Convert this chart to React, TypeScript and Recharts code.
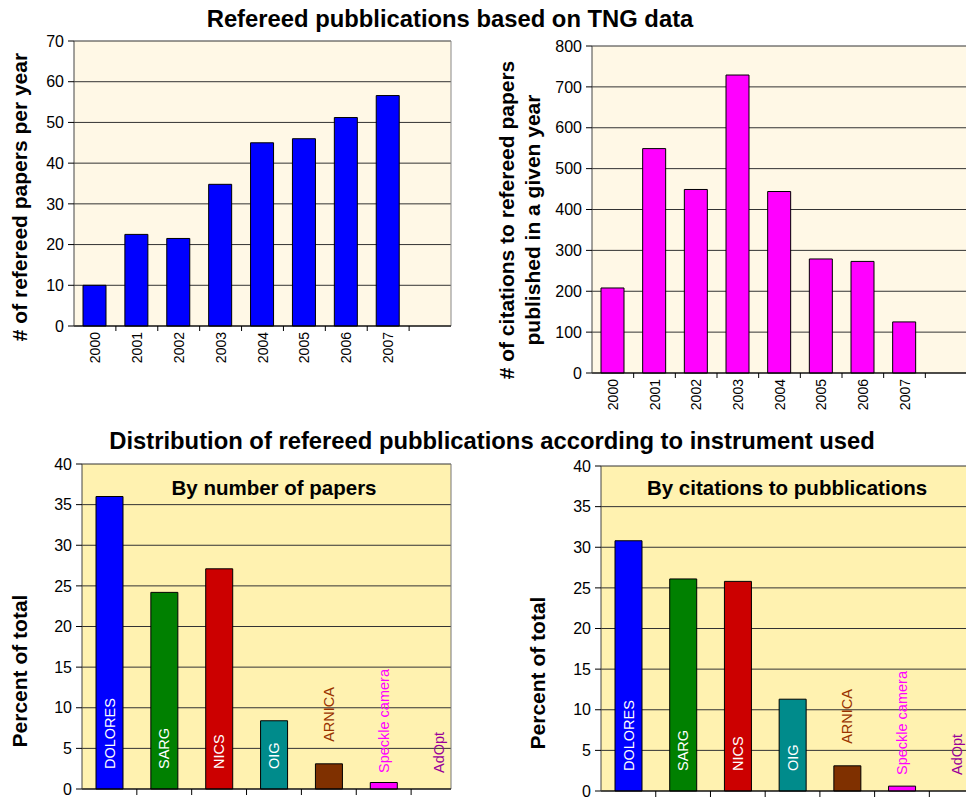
import React from 'react';
import { BarChart, Bar, XAxis, YAxis, CartesianGrid, Cell, LabelList } from 'recharts';

const years = ['2000', '2001', '2002', '2003', '2004', '2005', '2006', '2007'];
const papersPerYear = [10, 22.5, 21.5, 34.8, 45, 46, 51.2, 56.6];
const citationsPerYear = [208, 549, 449, 729, 444, 279, 273, 125];
const papersTicks = [0, 10, 20, 30, 40, 50, 60, 70];
const citationsTicks = [0, 100, 200, 300, 400, 500, 600, 700, 800];

const instruments = ['DOLORES', 'SARG', 'NICS', 'OIG', 'ARNICA', 'Speckle camera', 'AdOpt'];
const papersPercent = [36, 24.2, 27.1, 8.4, 3.1, 0.8, 0];
const citationsPercent = [30.8, 26.1, 25.8, 11.3, 3.1, 0.6, 0];
const percentTicks = [0, 5, 10, 15, 20, 25, 30, 35, 40];

const barColors = ['#0000FF', '#008000', '#CC0000', '#008B8B', '#7F3000', '#FF00FF', '#800080'];
const labelColors = ['#FFFFFF', '#FFFFFF', '#FFFFFF', '#FFFFFF', '#993300', '#FF00FF', '#990099'];

const FONT = 'Arial, "Liberation Sans", Helvetica, sans-serif';

// one empty slot after 2007, like the original
const yearRows = (values: number[]) => [
  ...years.map((year, i) => ({ year, value: values[i] })),
  { year: '', value: null },
];

const instrumentRows = (values: number[]) =>
  instruments.map((name, i) => ({ name, value: values[i] }));

const YearTick = (props: any) => {
  const { x, y, payload, band } = props;
  if (!payload || payload.value === '') return null;
  const ty = y + 6;
  return (
    <g>
      <line x1={x + band / 2} x2={x + band / 2} y1={y} y2={y + 5} stroke="#000" />
      <text
        x={x}
        y={ty}
        transform={`rotate(-90 ${x} ${ty})`}
        textAnchor="end"
        dominantBaseline="central"
        fontSize={14}
        fontFamily={FONT}
        fill="#000"
      >
        {payload.value}
      </text>
    </g>
  );
};

const InstrumentLabel = (props: any) => {
  const { x, y, width, height, value } = props;
  const index = props.index ?? instruments.indexOf(value);
  const bottom = y + height;
  const cx = x + width / 2;
  let ay = bottom - 16;
  if (height > 40) ay = bottom - 20;
  else if (height > 15) ay = y - 22;
  return (
    <text
      x={cx}
      y={ay}
      transform={`rotate(-90 ${cx} ${ay})`}
      textAnchor="start"
      dominantBaseline="central"
      fontSize={14.5}
      fontFamily={FONT}
      fill={labelColors[index]}
    >
      {value}
    </text>
  );
};

// tick marks sit on the category boundaries; zero bars get their name here,
// since the bar label list skips them
const BoundaryTick = (props: any) => {
  const { x, y, index, band, count, values } = props;
  return (
    <g>
      {index < count - 1 && (
        <line x1={x + band / 2} x2={x + band / 2} y1={y} y2={y + 6} stroke="#000" />
      )}
      {values[index] === 0 && (
        <InstrumentLabel x={x - 13.5} y={y} width={27} height={0} value={instruments[index]} index={index} />
      )}
    </g>
  );
};

const rightBorder = ({ offset }: any) => [offset.left + offset.width];

const yTick = { fontSize: 16, fill: '#000', fontFamily: FONT };

const boxStyle = (left: number, top: number): React.CSSProperties => ({
  position: 'absolute',
  left,
  top,
});

const Title = ({ x, y, size, children }: any) => (
  <div
    style={{
      position: 'absolute',
      left: x,
      top: y,
      transform: 'translate(-50%, -50%)',
      whiteSpace: 'nowrap',
      fontWeight: 'bold',
      fontSize: size,
      lineHeight: 1,
      color: '#000',
      zIndex: 2,
    }}
  >
    {children}
  </div>
);

const AxisTitle = ({ x, y, children }: any) => (
  <div
    style={{
      position: 'absolute',
      left: x,
      top: y,
      transform: 'translate(-50%, -50%) rotate(-90deg)',
      whiteSpace: 'nowrap',
      fontWeight: 'bold',
      fontSize: 21,
      lineHeight: '26px',
      textAlign: 'center',
      color: '#000',
    }}
  >
    {children}
  </div>
);

const YearChart = ({ left, width, height, top, yWidth, xHeight, right, values, ticks, fill, band }: any) => (
  <div style={boxStyle(left, 0)}>
    <BarChart
      width={width}
      height={height}
      data={yearRows(values)}
      margin={{ top, right, bottom: 0, left: 0 }}
    >
      <CartesianGrid vertical={false} fill="#FFF8E6" stroke="#333" />
      <CartesianGrid horizontal={false} verticalCoordinatesGenerator={rightBorder} stroke="#888" />
      <XAxis
        dataKey="year"
        height={xHeight}
        interval={0}
        tickLine={false}
        tickSize={0}
        tickMargin={0}
        axisLine={{ stroke: '#000' }}
        tick={<YearTick band={band} />}
      />
      <YAxis
        width={yWidth}
        domain={[ticks[0], ticks[ticks.length - 1]]}
        ticks={ticks}
        interval={0}
        tick={yTick}
        tickSize={6}
        tickMargin={4}
        tickLine={{ stroke: '#000' }}
        axisLine={{ stroke: '#444' }}
      />
      <Bar dataKey="value" fill={fill} stroke="#000" strokeWidth={1} barSize={23} isAnimationActive={false} />
    </BarChart>
  </div>
);

const InstrumentChart = ({ left, width, top, yWidth, xHeight, right, padRight, values, band }: any) => (
  <div style={boxStyle(left, 440)}>
    <BarChart
      width={width}
      height={358}
      data={instrumentRows(values)}
      margin={{ top, right, bottom: 0, left: 0 }}
    >
      <CartesianGrid vertical={false} fill="#FFF2B0" stroke="#333" />
      <CartesianGrid horizontal={false} verticalCoordinatesGenerator={rightBorder} stroke="#777" />
      <XAxis
        dataKey="name"
        height={xHeight}
        interval={0}
        padding={{ left: 0, right: padRight }}
        tickLine={false}
        tickSize={0}
        tickMargin={0}
        axisLine={{ stroke: '#000' }}
        tick={<BoundaryTick band={band} count={instruments.length} values={values} />}
      />
      <YAxis
        width={yWidth}
        domain={[0, 40]}
        ticks={percentTicks}
        interval={0}
        tick={yTick}
        tickSize={6}
        tickMargin={4}
        tickLine={{ stroke: '#000' }}
        axisLine={{ stroke: '#444' }}
      />
      <Bar dataKey="value" stroke="#000" strokeWidth={1} barSize={27} isAnimationActive={false}>
        {values.map((_: number, i: number) => (
          <Cell key={instruments[i]} fill={barColors[i]} />
        ))}
        <LabelList dataKey="name" content={<InstrumentLabel />} />
      </Bar>
    </BarChart>
  </div>
);

export default function App() {
  return (
    <div
      style={{
        position: 'absolute',
        left: 0,
        top: 0,
        width: 966,
        height: 798,
        overflow: 'hidden',
        background: '#fff',
        fontFamily: FONT,
      }}
    >
      <YearChart
        left={0}
        width={470}
        height={380}
        top={41}
        right={19}
        yWidth={74}
        xHeight={54}
        values={papersPerYear}
        ticks={papersTicks}
        fill="#0000FF"
        band={377 / 9}
      />
      <YearChart
        left={490}
        width={480}
        height={430}
        top={46}
        right={3}
        yWidth={102}
        xHeight={57}
        values={citationsPerYear}
        ticks={citationsTicks}
        fill="#FF00FF"
        band={375 / 9}
      />
      <InstrumentChart
        left={0}
        width={470}
        top={24}
        right={19}
        padRight={-15}
        yWidth={82}
        xHeight={9}
        values={papersPercent}
        band={54.8}
      />
      <InstrumentChart
        left={490}
        width={500}
        top={26}
        right={6}
        padRight={0}
        yWidth={111}
        xHeight={7}
        values={citationsPercent}
        band={54.8}
      />

      <Title x={450} y={19} size={23.8}>Refereed pubblications based on TNG data</Title>
      <Title x={492} y={441} size={23.8}>Distribution of refereed pubblications according to instrument used</Title>
      <Title x={274} y={488} size={20.5}>By number of papers</Title>
      <Title x={787} y={488} size={20.5}>By citations to pubblications</Title>

      <AxisTitle x={20} y={197}># of refereed papers per year</AxisTitle>
      <AxisTitle x={520} y={220}>
        # of citations to refereed papers
        <br />
        published in a given year
      </AxisTitle>
      <AxisTitle x={20} y={671}>Percent of total</AxisTitle>
      <AxisTitle x={538} y={673}>Percent of total</AxisTitle>
    </div>
  );
}
